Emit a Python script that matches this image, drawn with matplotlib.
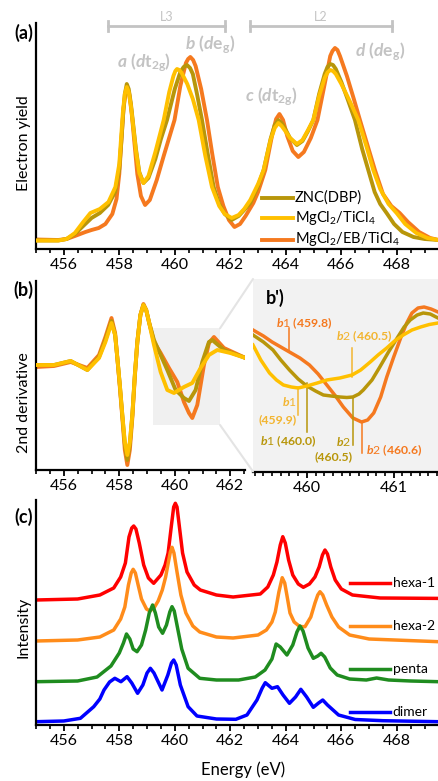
import matplotlib
matplotlib.use('Agg')
import matplotlib.pyplot as plt
from matplotlib.ticker import MultipleLocator
from matplotlib.patches import Rectangle, ConnectionPatch

plt.rcParams['font.family'] = ['Lato', 'DejaVu Sans']
plt.rcParams['mathtext.fontset'] = 'custom'
plt.rcParams['mathtext.rm'] = 'Lato'
plt.rcParams['mathtext.it'] = 'Lato:italic:bold'
plt.rcParams['mathtext.bf'] = 'Lato:bold'

# ---- (a) electron yield, arbitrary units ----
znc_e = [455.0, 455.8, 456.1, 456.4, 456.7, 457.0, 457.3, 457.6, 457.85, 458.0, 458.08, 458.14, 458.2, 458.27,
         458.34, 458.42, 458.5, 458.6, 458.72, 458.87, 459.05, 459.3, 459.5, 459.72, 460.0, 460.2, 460.32, 460.44,
         460.55, 460.65, 460.8, 460.98, 461.2, 461.4, 461.6, 461.8, 462.05, 462.3, 462.5, 462.72, 463.0, 463.2,
         463.45, 463.6, 463.73, 463.85, 463.98, 464.15, 464.4, 464.6, 464.8, 464.99, 465.2, 465.4, 465.5, 465.6,
         465.7, 465.8, 466.0, 466.25, 466.49, 466.75, 466.97, 467.2, 467.4, 467.63, 467.9, 468.2, 468.6, 469.0, 469.5]
znc_y = [3.5, 3.5, 5, 10, 18, 26, 31, 39, 52, 75, 105, 130, 150, 160, 155, 140, 120, 95, 72, 61, 66, 85, 105, 124,
         155, 172, 177, 179, 176, 170, 150, 124, 88, 57, 40, 30, 24, 28, 34, 41, 58, 74, 105, 119, 124, 121, 115,
         106, 99, 103, 113, 124, 150, 170, 177, 180, 179, 175, 162, 143, 124, 95, 74, 52, 40, 31, 20, 12, 7, 5, 4]

mgti_e = [455.0, 455.8, 456.1, 456.4, 456.7, 456.96, 457.3, 457.61, 457.86, 458.0, 458.07, 458.13, 458.2, 458.27,
          458.34, 458.42, 458.5, 458.6, 458.72, 458.87, 459.05, 459.3, 459.6, 459.8, 459.95, 460.02, 460.08, 460.16,
          460.25, 460.45, 460.65, 460.86, 461.1, 461.34, 461.6, 461.8, 462.05, 462.3, 462.5, 462.72, 463.0, 463.2,
          463.45, 463.6, 463.73, 463.85, 463.98, 464.15, 464.4, 464.6, 464.8, 464.99, 465.2, 465.4, 465.5, 465.6,
          465.7, 465.8, 466.0, 466.3, 466.61, 466.9, 467.15, 467.4, 467.7, 467.99, 468.3, 468.7, 469.1, 469.5]
mgti_y = [3.5, 3.5, 5, 11, 22, 31, 35, 42, 57, 80, 108, 132, 150, 157, 152, 138, 118, 93, 71, 61, 68, 92, 124, 152,
          168, 173, 175, 174, 171, 160, 145, 124, 88, 57, 38, 30, 26, 29, 35, 44, 60, 74, 104, 116, 121, 118, 113,
          106, 100, 104, 114, 124, 148, 166, 171.5, 174, 173, 170, 160, 143, 124, 98, 74, 55, 40, 31, 20, 11, 6, 4]

mgeb_e = [455.0, 455.8, 456.1, 456.4, 456.78, 457.0, 457.26, 457.5, 457.75, 457.9, 458.0, 458.08, 458.15, 458.22,
          458.29, 458.36, 458.45, 458.55, 458.65, 458.78, 458.93, 459.1, 459.35, 459.6, 459.99, 460.2, 460.4, 460.48,
          460.56, 460.66, 460.75, 460.95, 461.16, 461.35, 461.55, 461.75, 461.95, 462.15, 462.35, 462.55, 462.83,
          463.0, 463.26, 463.5, 463.65, 463.77, 463.9, 464.05, 464.25, 464.45, 464.65, 464.9, 465.14, 465.4, 465.6,
          465.68, 465.77, 465.86, 465.95, 466.2, 466.45, 466.67, 466.95, 467.21, 467.5, 467.8, 468.1, 468.4, 468.8,
          469.2, 469.5]
mgeb_y = [4.5, 4, 5, 8, 12, 14, 16, 20, 30, 45, 70, 105, 135, 150, 156, 150, 130, 100, 70, 48, 39, 44, 64, 88, 124,
          158, 181, 185, 187, 184, 178, 155, 124, 90, 57, 38, 24, 17, 20, 28, 41, 52, 74, 108, 125, 130, 124, 108,
          93, 87, 92, 106, 124, 160, 188, 193, 196, 194, 188, 168, 145, 124, 98, 74, 50, 38, 31, 22, 12, 6, 4]

# ---- (b) second derivative ----
d2_mgti_e = [455.0, 455.65, 456.25, 456.85, 457.27, 457.5, 457.72, 457.85, 457.93, 458.02, 458.11, 458.2, 458.29,
             458.38, 458.47, 458.56, 458.65, 458.76, 458.87, 458.97, 459.07, 459.25, 459.49, 459.73, 459.97, 460.33,
             460.63, 460.93, 461.23, 461.53, 462.0, 462.55]
d2_mgti_y = [105, 105, 109, 100, 112, 128, 147, 135, 112, 85, 55, 28, 15, 28, 55, 95, 128, 155, 165, 160, 148, 125,
             98, 80, 77, 83, 87, 102, 115, 120, 117, 112]
d2_znc_e = [455.0, 455.65, 456.25, 456.85, 457.27, 457.5, 457.72, 457.85, 457.93, 458.02, 458.11, 458.2, 458.29,
            458.38, 458.47, 458.56, 458.65, 458.76, 458.87, 458.97, 459.07, 459.25, 459.49, 459.73, 460.03, 460.33,
            460.51, 460.75, 460.99, 461.23, 461.35, 461.77, 462.55]
d2_znc_y = [105, 105, 109, 100, 113, 130, 149, 135, 112, 85, 55, 26, 10, 26, 55, 95, 128, 155, 165, 160, 148, 130,
            115, 100, 80, 72, 69, 80, 108, 128, 130, 120, 112]
d2_mgeb_e = [455.0, 455.65, 456.25, 456.85, 457.27, 457.5, 457.72, 457.85, 457.93, 458.02, 458.11, 458.2, 458.29,
             458.38, 458.47, 458.56, 458.65, 458.76, 458.87, 458.97, 459.07, 459.25, 459.49, 459.79, 460.09, 460.33,
             460.51, 460.63, 460.81, 461.05, 461.23, 461.41, 461.77, 462.55]
d2_mgeb_y = [103, 104, 108, 102, 115, 133, 152, 137, 112, 83, 52, 20, 5, 20, 52, 93, 128, 155, 166, 160, 148, 128,
             117, 102, 88, 68, 57, 52, 65, 105, 127, 133, 122, 112]

# ---- (b') zoom of the b region ----
zb_mgeb_e = [459.38, 459.5, 459.6, 459.7, 459.8, 459.92, 460.03, 460.13, 460.23, 460.33, 460.42, 460.53, 460.63,
             460.7, 460.77, 460.85, 460.92, 461.0, 461.08, 461.15, 461.21, 461.28, 461.35, 461.43, 461.51]
zb_mgeb_y = [141, 135, 129, 124, 119, 113, 106, 97, 86, 75, 64, 53, 49, 51, 58, 74, 94, 114, 133, 148, 158, 163,
             164, 162, 159]
zb_znc_e = [459.38, 459.5, 459.61, 459.7, 459.8, 459.9, 460.0, 460.1, 460.19, 460.28, 460.38, 460.46, 460.53, 460.6,
            460.65, 460.75, 460.84, 460.94, 461.04, 461.12, 461.19, 461.27, 461.34, 461.42, 461.51]
zb_znc_y = [136, 129, 121, 111, 101, 92, 85, 80, 76, 75, 74, 73.5, 74, 77, 81, 91, 104, 119, 133, 144, 151, 156,
            158, 157, 153]
zb_mgti_e = [459.38, 459.47, 459.57, 459.65, 459.73, 459.82, 459.9, 460.0, 460.12, 460.23, 460.38, 460.52, 460.62,
             460.73, 460.82, 460.92, 461.01, 461.11, 461.21, 461.31, 461.41, 461.51]
zb_mgti_y = [126, 111, 98, 91, 86, 84, 83, 85, 88, 91, 93, 96, 101, 109, 116, 123, 130, 136, 141, 144, 146.5, 148]

# ---- (c) simulated spectra (stacked) ----
hexa1_e = [455.0, 456.5, 457.3, 457.8, 458.05, 458.22, 458.35, 458.45, 458.52, 458.6, 458.72, 458.88, 459.05,
           459.24, 459.5, 459.65, 459.76, 459.88, 459.96, 460.02, 460.08, 460.18, 460.28, 460.44, 460.7, 460.92,
           461.5, 462.1, 463.08, 463.35, 463.55, 463.68, 463.8, 463.89, 463.98, 464.1, 464.25, 464.45, 464.63,
           464.85, 465.05, 465.2, 465.32, 465.41, 465.5, 465.62, 465.78, 466.0, 466.4, 467.4, 469.5]
hexa1_y = [125, 126, 130, 137, 148, 162, 188, 197, 199, 196, 182, 160, 147, 141.7, 150, 160, 172, 200, 218, 221.7,
           218, 195, 172, 153, 140, 135, 130, 128, 131, 138, 150, 163, 180, 188.3, 182, 165, 150, 141, 137.7, 141,
           148, 158, 170, 175, 171, 158, 145, 136, 130, 127, 126.6]
hexa2_e = [455.0, 456.5, 457.3, 457.8, 458.05, 458.2, 458.33, 458.43, 458.5, 458.58, 458.68, 458.8, 458.98, 459.1,
           459.25, 459.4, 459.55, 459.67, 459.77, 459.84, 459.9, 459.97, 460.08, 460.22, 460.4, 460.65, 460.9,
           461.5, 462.1, 463.0, 463.3, 463.5, 463.62, 463.75, 463.87, 463.96, 464.05, 464.15, 464.3, 464.5, 464.69,
           464.9, 465.05, 465.15, 465.23, 465.33, 465.47, 465.66, 465.9, 466.3, 467.0, 469.5]
hexa2_y = [84, 85, 88, 95, 106, 118, 140, 152, 155.7, 152, 140, 126, 116, 114, 117, 124, 135, 148, 163, 173, 177.7,
           172, 153, 130, 112, 99, 93, 88, 87, 90, 95, 103, 113, 133, 147.3, 142, 128, 112, 103, 98.5, 98.3, 108,
           122, 130, 133.3, 130, 120, 108, 98, 90, 86, 83.3]
penta_e = [455.0, 456.5, 457.2, 457.7, 458.0, 458.15, 458.26, 458.38, 458.5, 458.64, 458.8, 458.95, 459.08, 459.2,
           459.3, 459.42, 459.56, 459.7, 459.82, 459.9, 459.98, 460.1, 460.25, 460.48, 460.9, 461.5, 462.3, 462.9,
           463.25, 463.5, 463.65, 463.8, 464.04, 464.25, 464.4, 464.51, 464.62, 464.8, 464.99, 465.15, 465.27,
           465.4, 465.6, 465.85, 466.3, 466.9, 467.27, 467.7, 468.5, 469.5]
penta_y = [43.3, 44, 48, 59, 72, 82, 91, 86, 76, 73.3, 80, 95, 112, 120, 112, 98, 91.7, 100, 113, 118.3, 114, 97,
           76, 56.7, 46.7, 45, 45, 48, 55, 66, 81, 78, 70, 80, 93, 99, 94, 77, 66.7, 69, 71.7, 68, 57, 50, 46, 45,
           47, 45, 44, 43.3]
dimer_e = [455.0, 456.0, 456.6, 457.08, 457.3, 457.45, 457.65, 457.84, 458.06, 458.28, 458.45, 458.66, 458.85,
           459.0, 459.12, 459.25, 459.54, 459.75, 459.88, 459.96, 460.05, 460.2, 460.48, 460.8, 461.5, 462.2, 462.6,
           462.96, 463.15, 463.26, 463.5, 463.7, 463.9, 464.13, 464.35, 464.54, 464.75, 464.99, 465.18, 465.33,
           465.5, 465.9, 466.5, 467.5, 469.5]
dimer_y = [3.3, 4, 6.7, 18.3, 26, 35, 43, 46.7, 43.3, 48.3, 42, 31.7, 40, 52, 56.7, 52, 35, 50, 62, 65, 60, 40, 18.3,
           9, 6, 5.7, 10, 25, 37, 42.3, 36.7, 38.3, 30, 21.7, 28, 35.7, 28, 17.7, 22, 25, 20, 10, 5.5, 4.3, 3.3]

labels_a = ['ZNC(DBP)', 'MgCl$_2$/TiCl$_4$', 'MgCl$_2$/EB/TiCl$_4$']
labels_c = ['hexa-1', 'hexa-2', 'penta', 'dimer']

C_ZNC = '#B8960A'
C_MGTI = '#FFC000'
C_MGEB = '#F5791F'
C_GREY = '#C3C3C3'

W, H = 438, 781
fig = plt.figure(figsize=(W / 100, H / 100), dpi=100)


def box(l, t, r, b):
    return [l / W, 1 - b / H, (r - l) / W, (b - t) / H]


def style(ax, minor=0.5, major=2):
    ax.spines[['top', 'right']].set_visible(False)
    for s in ['left', 'bottom']:
        ax.spines[s].set_linewidth(1.6)
    ax.set_yticks([])
    ax.xaxis.set_major_locator(MultipleLocator(major))
    ax.xaxis.set_minor_locator(MultipleLocator(minor))
    ax.tick_params(axis='x', which='major', length=4.5, width=1.3, labelsize=11.5, pad=2)
    ax.tick_params(axis='x', which='minor', length=2.6, width=1.2)


# panel a
ax_a = fig.add_axes(box(36, 23, 438.5, 249))
style(ax_a)
ax_a.plot(mgeb_e, mgeb_y, color=C_MGEB, lw=2.8, zorder=2)
ax_a.plot(znc_e, znc_y, color=C_ZNC, lw=2.8, zorder=3)
ax_a.plot(mgti_e, mgti_y, color=C_MGTI, lw=2.8, zorder=4)
ax_a.set_xlim(455, 469.5)
ax_a.set_ylim(-5, 221)

for x0, x1, name in [(457.61, 461.82, 'L3'), (462.72, 467.81, 'L2')]:
    ax_a.plot([x0, x1], [218, 218], color=C_GREY, lw=2, clip_on=False)
    ax_a.plot([x0, x0], [213, 223], color=C_GREY, lw=2, clip_on=False)
    ax_a.plot([x1, x1], [213, 223], color=C_GREY, lw=2, clip_on=False)
    ax_a.text((x0 + x1) / 2, 227, name, color=C_GREY, fontsize=9, ha='center', va='center', clip_on=False)

peak_kw = dict(color=C_GREY, fontsize=12.5, fontweight='bold', ha='center', va='center')
ax_a.text(458.88, 181, r'$\mathit{a}$ ($\mathit{d}$t$_{\mathbf{2g}}$)', **peak_kw)
ax_a.text(461.28, 199, r'$\mathit{b}$ ($\mathit{d}$e$_{\mathbf{g}}$)', **peak_kw)
ax_a.text(463.5, 147, r'$\mathit{c}$ ($\mathit{d}$t$_{\mathbf{2g}}$)', **peak_kw)
ax_a.text(467.38, 192, r'$\mathit{d}$ ($\mathit{d}$e$_{\mathbf{g}}$)', **peak_kw)

for lab, col, hy in zip(labels_a, [C_ZNC, C_MGTI, C_MGEB], [46, 26, 4.5]):
    ax_a.plot([463.15, 464.27], [hy, hy], color=col, lw=2.8, clip_on=False, zorder=5)
    ax_a.text(464.33, hy, lab, fontsize=10.5, va='center', zorder=5)

# panel b
ax_b = fig.add_axes(box(36, 281, 245, 470))
style(ax_b)
ax_b.add_patch(Rectangle((459.23, 45), 2.4, 96.7, facecolor='#F0F0F0', edgecolor='none', zorder=0))
ax_b.plot(d2_mgeb_e, d2_mgeb_y, color=C_MGEB, lw=2.8, zorder=2)
ax_b.plot(d2_znc_e, d2_znc_y, color=C_ZNC, lw=2.8, zorder=3)
ax_b.plot(d2_mgti_e, d2_mgti_y, color=C_MGTI, lw=2.8, zorder=4)
ax_b.set_xlim(455, 455 + 209 / 27.76)
ax_b.set_ylim(0, 189)

# panel b'
ax_z = fig.add_axes(box(253, 279, 438, 471.5))
ax_z.set_facecolor('#F2F2F2')
style(ax_z, minor=0.1, major=1)
ax_z.spines['left'].set_visible(False)
ax_z.plot(zb_mgeb_e, zb_mgeb_y, color=C_MGEB, lw=2.5, zorder=2)
ax_z.plot(zb_znc_e, zb_znc_y, color=C_ZNC, lw=2.5, zorder=3)
ax_z.plot(zb_mgti_e, zb_mgti_y, color=C_MGTI, lw=2.5, zorder=4)
ax_z.set_xlim(459.38, 461.51)
ax_z.set_ylim(-0.5, 192)
ax_z.text(459.53, 173, "b')", fontsize=13, fontweight='bold', va='center')

T_MGTI = '#F2B530'
mark_kw = dict(fontsize=8.8, fontweight='bold', ha='center', va='center')
ax_z.plot([459.80, 459.80], [119, 143], color=C_MGEB, lw=1.1)
ax_z.text(459.97, 148, r'$\mathit{b1}$ (459.8)', color=C_MGEB, **mark_kw)
ax_z.plot([460.52, 460.52], [94, 123], color=T_MGTI, lw=1.1)
ax_z.text(460.66, 135, r'$\mathit{b2}$ (460.5)', color=T_MGTI, **mark_kw)
ax_z.plot([459.90, 459.90], [56, 84], color=T_MGTI, lw=1.1)
ax_z.text(459.80, 69, r'$\mathit{b1}$', color=T_MGTI, **mark_kw)
ax_z.text(459.66, 51, '(459.9)', color=T_MGTI, **mark_kw)
ax_z.plot([460.0, 460.0], [39, 88], color=C_ZNC, lw=1.1)
ax_z.text(459.78, 30, r'$\mathit{b1}$ (460.0)', color=C_ZNC, **mark_kw)
ax_z.plot([460.53, 460.53], [26, 74], color=C_ZNC, lw=1.1)
ax_z.text(460.42, 30, r'$\mathit{b2}$', color=C_ZNC, **mark_kw)
ax_z.text(460.31, 14, '(460.5)', color=C_ZNC, **mark_kw)
ax_z.plot([460.63, 460.63], [18, 49], color=C_MGEB, lw=1.1)
ax_z.text(461.0, 21, r'$\mathit{b2}$ (460.6)', color=C_MGEB, **mark_kw)

for ya, yb in [(141.7, 1), (45, 0)]:
    con = ConnectionPatch(xyA=(461.63, ya), coordsA=ax_b.transData, xyB=(0, yb), coordsB=ax_z.transAxes,
                          color='#E4E4E4', lw=1.5)
    fig.add_artist(con)

# panel c
ax_c = fig.add_axes(box(36, 500, 438.5, 725))
style(ax_c)
c_cols = ['#FF0000', '#FF8C1A', '#1F8C1F', '#0000FF']
for e, y, col in zip([hexa1_e, hexa2_e, penta_e, dimer_e], [hexa1_y, hexa2_y, penta_y, dimer_y], c_cols):
    ax_c.plot(e, y, color=col, lw=2.5)
ax_c.set_xlim(455, 469.5)
ax_c.set_ylim(0, 225)
for lab, col, hy in zip(labels_c, c_cols, [142.3, 99, 56, 13.3]):
    ax_c.plot([466.3, 467.75], [hy, hy], color=col, lw=2.5)
    ax_c.text(467.85, hy, lab, fontsize=10, va='center')

# labels
fig.text(33 / W, 1 - 33 / H, '(a)', fontsize=13, fontweight='bold', ha='right', va='center')
fig.text(33 / W, 1 - 290 / H, '(b)', fontsize=13, fontweight='bold', ha='right', va='center')
fig.text(33 / W, 1 - 517 / H, '(c)', fontsize=13, fontweight='bold', ha='right', va='center')
fig.text(24 / W, 1 - 143 / H, 'Electron yield', fontsize=11.5, rotation=90, ha='center', va='center')
fig.text(24 / W, 1 - 403 / H, '2nd derivative', fontsize=11.5, rotation=90, ha='center', va='center')
fig.text(24 / W, 1 - 627 / H, 'Intensity', fontsize=11.5, rotation=90, ha='center', va='center')
fig.text(243 / W, 1 - 770 / H, 'Energy (eV)', fontsize=12, ha='center', va='center')

fig.savefig('out.png', dpi=100)
